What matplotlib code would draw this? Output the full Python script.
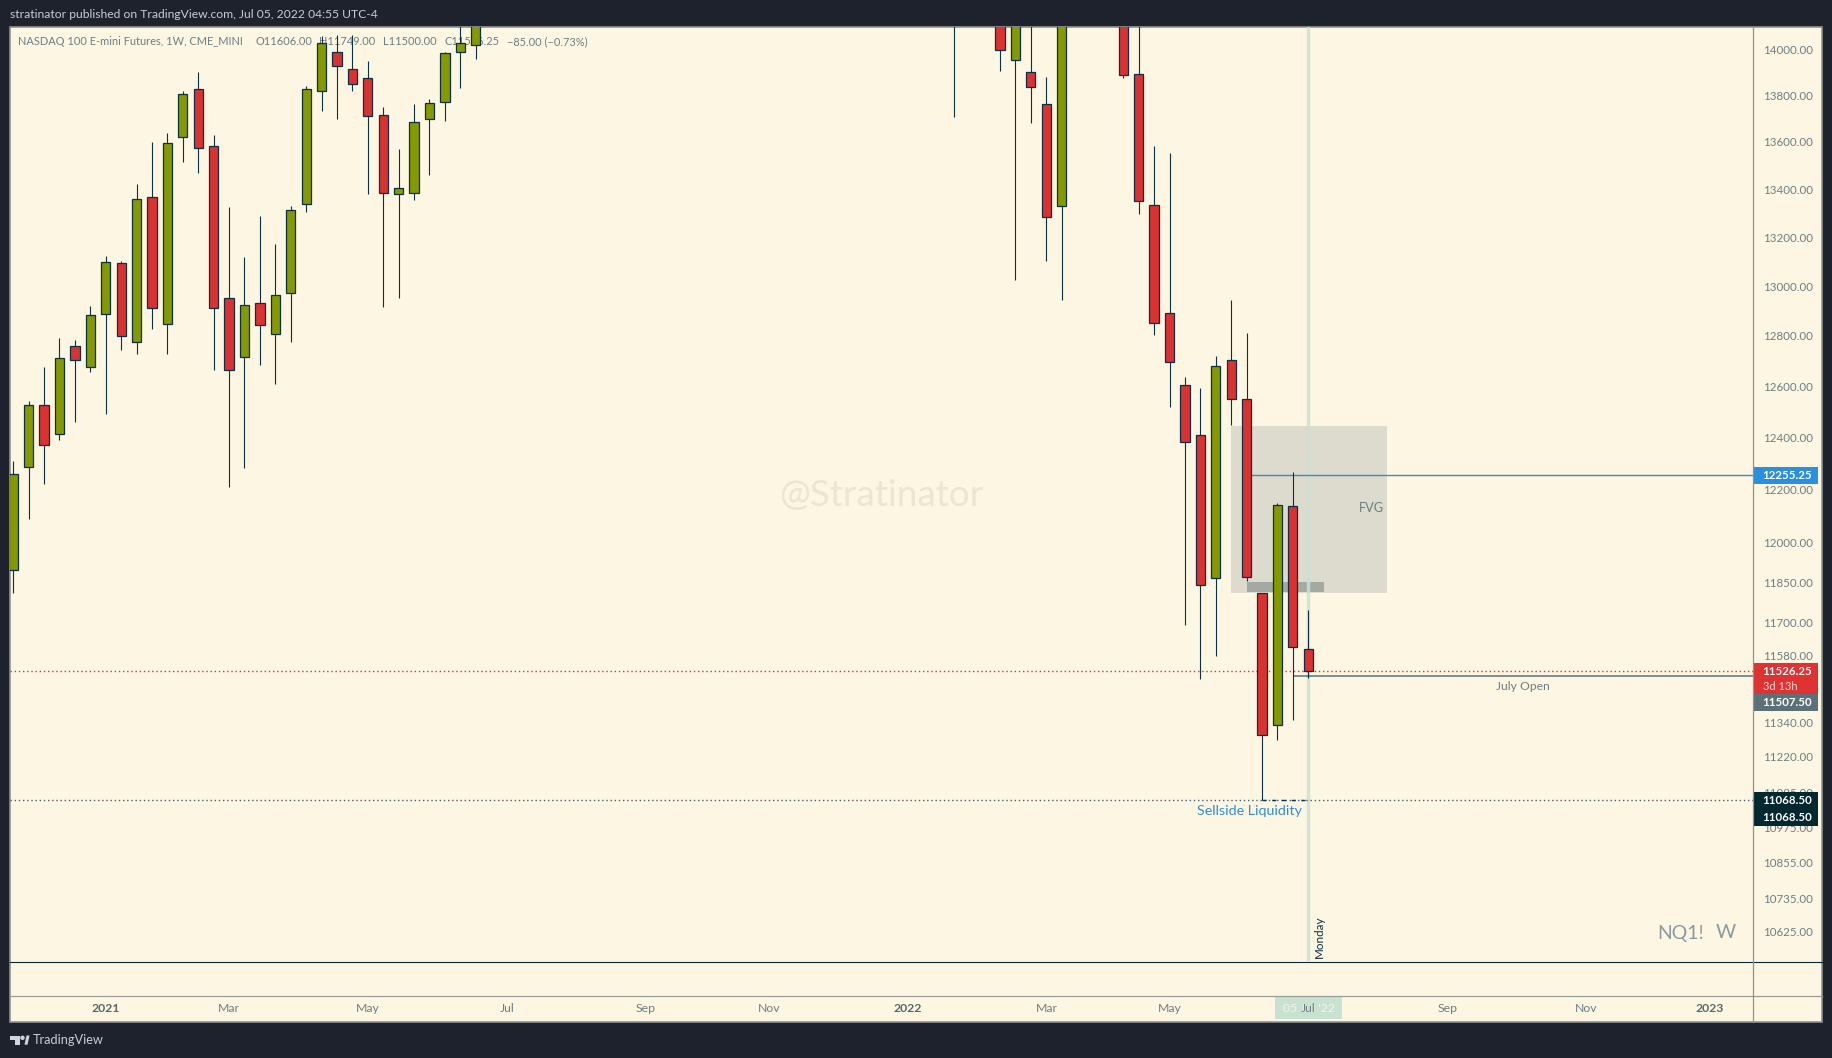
import matplotlib
matplotlib.use('Agg')
import matplotlib.pyplot as plt
from matplotlib.patches import Rectangle, Polygon, Circle
from matplotlib.ticker import NullLocator

plt.rcParams['font.family'] = ['Lato', 'DejaVu Sans']

W, H = 1833, 1058
BG = '#fdf6e3'
DARK = '#1e222d'
GREEN = '#859900'
RED = '#dc3131'
EDGE = '#0b2f43'
GREY_TXT = '#6b7e84'
SEL = '#c8e2d2'

# week index, high, top of body, bottom of body, low, up/down
weeks = list(range(0, 31)) + [61, 64, 65, 66, 67, 68] + list(range(72, 85))
highs = [12308, 12542, 12676, 12791, 12783, 12919, 13123, 13102, 13422, 13600,
         13638, 13818, 13900, 13630, 13326, 13119, 13289, 13173, 13330, 13840,
         14058, 14063, 14063, 13948, 13749, 13570, 13762, 13784, 13987, 14200, 14250,
         14400, 14300, 14250, 14200, 13879, 14300,
         14180, 14300, 13583, 13553, 12636, 12592, 12719, 12944, 12811, 11810, 12148, 12264, 11749]
tops = [12259, 12525, 12525, 12710, 12758, 12882, 13097, 13093, 13358, 13366,
        13595, 13804, 13826, 13582, 12954, 12922, 12930, 12966, 13312, 13826,
        14026, 13987, 13916, 13877, 13714, 13404, 13684, 13765, 13982, 14029, 14190,
        14200, 14200, 14180, 13899, 13761, 14200,
        14150, 13891, 13333, 12891, 12603, 12408, 12678, 12702, 12548, 11810, 12139, 12135, 11606]
bottoms = [11895, 12284, 12369, 12411, 12702, 12675, 12886, 12801, 12774, 12910,
           12846, 13620, 13573, 12910, 12663, 12714, 12842, 12806, 12974, 13337,
           13817, 13925, 13847, 13710, 13383, 13379, 13383, 13697, 13769, 13987, 14021,
           14120, 13996, 13952, 13837, 13286, 13331,
           13889, 13350, 12850, 12694, 12381, 11839, 11865, 12548, 11869, 11297, 11332, 11612, 11526.25]
lows = [11812, 12088, 12221, 12390, 12461, 12657, 12492, 12743, 12729, 12828,
        12729, 13517, 13470, 12665, 12210, 12283, 12685, 12610, 12777, 13307,
        13734, 13700, 13820, 13382, 12917, 12953, 13356, 13461, 13691, 13833, 13959,
        13708, 13906, 13027, 13683, 13104, 12945,
        13876, 13298, 12805, 12519, 11691, 11495, 11578, 12446, 11853, 11068.5, 11278, 11352, 11500]
up = 'GGRGRGGRGRGGRRRGRGGGGRRRRGGGGGG' + 'GRGRRG' + 'RRRRRRGRRRGRR'

price_ticks = [14000, 13800, 13600, 13400, 13200, 13000, 12800, 12600, 12400, 12200, 12000,
               11850, 11700, 11580, 11460, 11340, 11220, 11095, 10975, 10855, 10735, 10625]
time_pos = [6, 14, 23, 32, 41, 49, 58, 67, 75, 84, 93, 102, 110]
time_labels = ['2021', 'Mar', 'May', 'Jul', 'Sep', 'Nov', '2022', 'Mar', 'May', 'Jul', 'Sep', 'Nov', '2023']

last_close = 11526.25
july_open = 11507.50
blue_level = 12255.25
sellside = 11068.50
fvg_top, fvg_bottom = 12445, 11812
small_top, small_bottom = 11851, 11814

legend_parts = ['NASDAQ 100 E-mini Futures, 1W, CME_MINI', 'O11606.00', 'H11749.00', 'L11500.00',
                'C11526.25', '\u221285.00 (\u22120.73%)']
legend_x = [18, 256, 319.5, 383, 445, 507]

fig = plt.figure(figsize=(W / 100, H / 100), dpi=100, facecolor=DARK)


def pixel_axes(z):
    a = fig.add_axes([0, 0, 1, 1], zorder=z)
    a.set_xlim(0, W)
    a.set_ylim(H, 0)
    a.axis('off')
    a.patch.set_alpha(0)
    return a


back = pixel_axes(0)
back.add_patch(Rectangle((10, 27), 1812.5, 995, fc=BG, ec='#8f9390', lw=1.2))

# main pane: 10..1753 wide, 27..961 high
ax = fig.add_axes([10 / W, 1 - 961.3 / H, 1743.5 / W, 934.3 / H], zorder=1)
ax.patch.set_alpha(0)
for s in ax.spines.values():
    s.set_visible(False)
ax.set_yscale('log')
ax.set_xlim(-0.21, 112.88)
ax.set_ylim(10525, 14098)
ax.set_xticks([])
ax.yaxis.tick_right()
ax.set_yticks(price_ticks, ['%.2f' % p for p in price_ticks])
ax.yaxis.set_minor_locator(NullLocator())
ax.tick_params(axis='y', length=0, pad=7, labelsize=8.3, labelcolor=GREY_TXT)

for part, x in zip(legend_parts, legend_x):
    back.text(x, 41.5, part, fontsize=7.9, color=GREY_TXT, va='center', ha='left')

back.text(881.5, 495, '@Stratinator', fontsize=26.6, color='#ece5cf', va='center', ha='center')

# FVG box and the smaller grey block under the candles
ax.add_patch(Rectangle((79, fvg_bottom), 10.1, fvg_top - fvg_bottom, fc='#dddbce', ec='none', zorder=1))
ax.add_patch(Rectangle((80, small_bottom), 5.05, small_top - small_bottom, fc='#a3aaa4', ec='none', zorder=1.2))
ax.axvline(84, color=SEL, lw=2.5, alpha=0.85, zorder=1.5)

ax.axhline(sellside, color='#4f5b66', lw=1, ls=(0, (1, 2)), zorder=1.6)
ax.hlines(sellside, 81, 84, color=EDGE, lw=1, ls=(0, (3, 4)), zorder=1.7)
ax.hlines(blue_level, 80, 112.88, color='#3d8dbf', lw=1, zorder=1.8)
ax.hlines(july_open, 83, 112.88, color='#5b7077', lw=1.1, zorder=1.8)
ax.axhline(last_close, color=RED, lw=1, ls=(0, (1, 2)), zorder=1.9)

colors = [GREEN if c == 'G' else RED for c in up]
ax.vlines(weeks, lows, highs, color=EDGE, lw=0.8, zorder=2)
ax.bar(weeks, [t - b for t, b in zip(tops, bottoms)], bottom=bottoms, width=0.6,
       color=colors, edgecolor=EDGE, linewidth=0.9, zorder=3)

ax.text(84.71, 10536, 'Monday', rotation=90, fontsize=8.4, color=EDGE, ha='center', va='bottom', zorder=4)
ax.text(88.1, 12127, 'FVG', fontsize=9.2, color=GREY_TXT, ha='center', va='center', zorder=4)
ax.text(97.9, 11469, 'July Open', fontsize=8.7, color=GREY_TXT, ha='center', va='center', zorder=4)
ax.text(80.2, 11030, 'Sellside Liquidity', fontsize=10.3, color='#2e8fd8', ha='center', va='center', zorder=4)

over = pixel_axes(3)
over.plot([10, 1822], [961.5, 961.5], color='#06292f', lw=0.8)
over.plot([10, 1822], [995.5, 995.5], color='#9a9c96', lw=0.9)
over.plot([1753.5, 1753.5], [27, 1022], color='#8b9490', lw=0.9)

# price tags on the axis
tags = [('12255.25', '#2a8fdc', 467, 483.7, 475.3),
        ('11526.25', '#df3232', 663, 694, 671.7),
        ('11507.50', '#5b7177', 694, 710.7, 702.5),
        ('', '#01272f', 792, 826, 0)]
for label, col, y0, y1, ty in tags:
    over.add_patch(Rectangle((1753.5, y0), 64.2, y1 - y0, fc=col, ec='none'))
    if label:
        over.text(1787.5, ty, label, fontsize=8.3, color='white', weight='bold', ha='center', va='center')
over.text(1787.5, 800.7, '%.2f' % sellside, fontsize=8.3, color='white', weight='bold', ha='center', va='center')
over.text(1787.5, 817.7, '%.2f' % sellside, fontsize=8.3, color='white', weight='bold', ha='center', va='center')
over.text(1763, 686, '3d 13h', fontsize=8, color='#f9d3cc', ha='left', va='center')

over.text(1657.5, 933, 'NQ1!', fontsize=14, color='#8a9a9e', ha='left', va='center')
over.text(1736, 933, 'W', fontsize=14, color='#8a9a9e', ha='right', va='center')

# crosshair date box goes first, the Jul label shows through it
over.add_patch(Rectangle((1275, 995.5), 67.5, 23.5, fc=SEL, ec='none'))
over.text(1308.8, 1009, "05 Jul '22", fontsize=8.8, color='#f7f5e6', ha='center', va='center')

# time axis, years a bit heavier
for pos, lab in zip(time_pos, time_labels):
    px = 13.3 + pos * 15.42
    bold = lab.isdigit()
    over.text(px, 1009, lab, fontsize=8.8, color='#55686e' if bold else GREY_TXT,
              weight='bold' if bold else 'normal', ha='center', va='center')

over.text(10, 15, 'stratinator published on TradingView.com, Jul 05, 2022 04:55 UTC-4',
          fontsize=8.75, color='#c8ccd4', ha='left', va='center')

# logo + name in the footer
over.add_patch(Polygon([(10, 1035.5), (20, 1035.5), (20, 1044.7), (15, 1044.7), (15, 1040), (10, 1040)],
                       fc='#d1d4dc', ec='none'))
over.add_patch(Circle((22.5, 1037.8), 2.2, fc='#d1d4dc', ec='none'))
over.add_patch(Polygon([(24.5, 1044.7), (26.5, 1035.5), (29.5, 1035.5), (27.5, 1044.7)], fc='#d1d4dc', ec='none'))
over.text(33, 1040, 'TradingView', fontsize=9.2, color='#c8ccd4', ha='left', va='center')

fig.savefig('out.png', dpi=100, facecolor=DARK)
